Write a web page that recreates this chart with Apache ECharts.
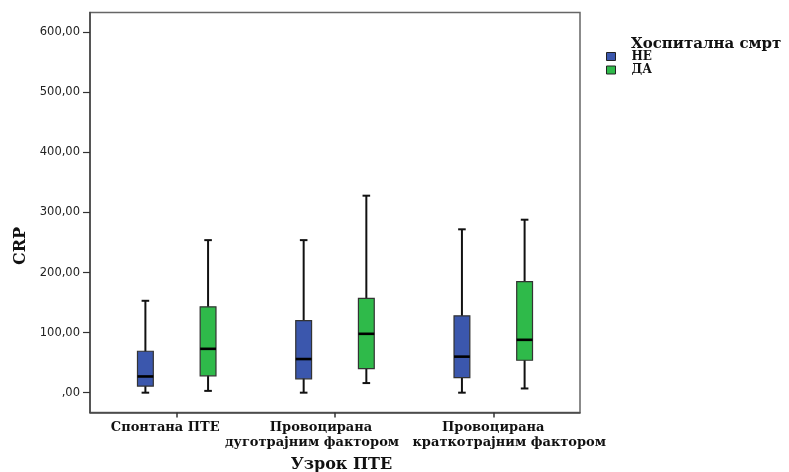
<!DOCTYPE html>
<html><head><meta charset="utf-8">
<script src="https://cdn.jsdelivr.net/npm/echarts@6/dist/echarts.min.js"></script>
<style>html,body{margin:0;padding:0;background:#fff}#c{width:789px;height:472px}</style>
</head><body><div id="c"></div>
<script>
// CRP by cause of PTE, split by in-hospital death
const categories = [['Спонтана ПТЕ'], ['Провоцирана', 'дуготрајним фактором'], ['Провоцирана', 'краткотрајним фактором']];
const groupNames = ['НЕ', 'ДА'];
// [lower whisker, Q1, median, Q3, upper whisker] for each category
const crpNe = [[0, 11, 27, 69, 153], [0, 23, 56, 120, 254], [0, 25, 60, 128, 272]];
const crpDa = [[3, 28, 73, 143, 254], [16, 40, 98, 157, 328], [7, 54, 88, 185, 288]];
const yTicks = [0, 100, 200, 300, 400, 500, 600];
const categoryTicks = [0, 1, 2];
const groupColors = ['#3b57ad', '#2fba4a'];

const serif = "'DejaVu Serif', 'Liberation Serif', serif";
const sans = "'DejaVu Sans', 'Liberation Sans', sans-serif";
const X_MIN = -0.548, X_MAX = 2.548, Y_MIN = -33, Y_MAX = 633;

function toRows(stats) {
  return stats.map((s, i) => [i].concat(s));
}

// per-line rich styles for the category labels (line 1 = l0, line 2 = l1)
const labelRich = {
  c0l0: { padding: [0, 23, 0, 0] },
  c1l0: { padding: [0, 28, 0, 0] },
  c1l1: { padding: [0, 46, 0, 0] },
  c2l0: { padding: [0, 0, 0, 0] },
  c2l1: { padding: [0, 0, 0, 32] }
};
Object.keys(labelRich).forEach(k => Object.assign(labelRich[k], {
  fontFamily: serif, fontWeight: 'bold', fontSize: 13, lineHeight: 14.5, color: '#111'
}));

function categoryLabel(v) {
  const i = Math.round(v);
  return categories[i].map((line, j) => '{c' + i + 'l' + j + '|' + line + '}').join('\n');
}

function boxRenderer(shift) {
  return function (params, api) {
    const x = api.value(0) + shift;
    const lo = api.value(1), q1 = api.value(2), med = api.value(3), q3 = api.value(4), hi = api.value(5);
    const half = 0.05, cap = 0.024;
    const topL = api.coord([x - half, q3]);
    const botR = api.coord([x + half, q1]);
    const mid = api.coord([x, med]);
    const hiP = api.coord([x, hi]);
    const loP = api.coord([x, lo]);
    const capL = api.coord([x - cap, hi])[0];
    const capR = api.coord([x + cap, hi])[0];
    const dark = '#111';
    return {
      type: 'group',
      children: [
        { type: 'line', shape: { x1: hiP[0], y1: hiP[1], x2: loP[0], y2: loP[1] }, style: { stroke: dark, lineWidth: 2 } },
        { type: 'line', shape: { x1: capL, y1: hiP[1], x2: capR, y2: hiP[1] }, style: { stroke: dark, lineWidth: 2 } },
        { type: 'line', shape: { x1: capL, y1: loP[1], x2: capR, y2: loP[1] }, style: { stroke: dark, lineWidth: 2 } },
        { type: 'rect', shape: { x: topL[0], y: topL[1], width: botR[0] - topL[0], height: botR[1] - topL[1] },
          style: { fill: api.visual('color'), stroke: '#333', lineWidth: 1.2 } },
        { type: 'line', shape: { x1: topL[0], y1: mid[1], x2: botR[0], y2: mid[1] }, style: { stroke: '#000', lineWidth: 2.6 } }
      ]
    };
  };
}

const gridRect = { left: 90, right: 209, top: 12.5, bottom: 59.5, containLabel: false, outerBoundsMode: 'none' };
const labelBase = {
  formatter: categoryLabel,
  rich: labelRich,
  showMinLabel: true, showMaxLabel: true, hideOverlap: false,
  margin: 8,
  fontFamily: serif, fontWeight: 'bold', fontSize: 13, lineHeight: 14.5, color: '#111'
};

const chart = echarts.init(document.getElementById('c'), null, { renderer: 'canvas' });
chart.setOption({
  animation: false,
  backgroundColor: '#fff',
  color: groupColors,
  title: {
    text: 'Хоспитална смрт',
    left: 626, top: 31.5,
    textStyle: { fontFamily: serif, fontWeight: 'bold', fontSize: 15, color: '#111' }
  },
  legend: {
    data: groupNames,
    orient: 'vertical',
    left: 606, top: 50.5, padding: 0,
    itemWidth: 9, itemHeight: 8, itemGap: 1.5,
    icon: 'rect',
    itemStyle: { borderColor: '#222', borderWidth: 1 },
    textStyle: { fontFamily: serif, fontWeight: 'bold', fontSize: 12, lineHeight: 9, color: '#111', padding: [0, 0, 0, 11] }
  },
  grid: [
    Object.assign({ show: true, borderColor: '#666', borderWidth: 1.5, backgroundColor: 'transparent' }, gridRect),
    Object.assign({ show: false }, gridRect)
  ],
  xAxis: [{
    gridIndex: 0,
    type: 'value',
    min: X_MIN, max: X_MAX,
    name: 'Узрок ПТЕ',
    nameLocation: 'middle',
    nameGap: 44,
    nameTextStyle: { fontFamily: serif, fontWeight: 'bold', fontSize: 16, color: '#111', padding: [0, 0, 0, 13] },
    splitLine: { show: false },
    axisLine: { show: true, onZero: false, lineStyle: { color: '#444', width: 1.5 } },
    axisTick: { show: true, length: 5, customValues: categoryTicks, lineStyle: { color: '#333', width: 1.5 } },
    axisLabel: Object.assign({ customValues: [0, 2] }, labelBase)
  }, {
    gridIndex: 1,
    type: 'value',
    min: X_MIN, max: X_MAX,
    splitLine: { show: false },
    axisLine: { show: false, onZero: false },
    axisTick: { show: false },
    axisLabel: Object.assign({ customValues: [1] }, labelBase)
  }],
  yAxis: [{
    gridIndex: 0,
    type: 'value',
    min: Y_MIN, max: Y_MAX,
    splitLine: { show: false },
    axisLine: { show: true, onZero: false, lineStyle: { color: '#444', width: 1.5 } },
    axisTick: { show: true, length: 7, customValues: yTicks, lineStyle: { color: '#333', width: 1.2 } },
    axisLabel: {
      customValues: yTicks,
      formatter: v => (v === 0 ? ',00' : v + ',00'),
      margin: 10,
      fontFamily: sans, fontSize: 11.5, color: '#222'
    }
  }, {
    gridIndex: 1,
    type: 'value',
    min: Y_MIN, max: Y_MAX,
    show: false
  }],
  graphic: [{
    type: 'text',
    x: 13, y: 246,
    rotation: Math.PI / 2,
    style: { text: 'CRP', fontFamily: serif, fontWeight: 'bold', fontSize: 16, fill: '#111', align: 'center', verticalAlign: 'top' }
  }],
  series: [
    { name: groupNames[0], type: 'custom', renderItem: boxRenderer(-0.198), data: toRows(crpNe),
      encode: { x: 0, y: [1, 2, 3, 4, 5] }, itemStyle: { color: groupColors[0] } },
    { name: groupNames[1], type: 'custom', renderItem: boxRenderer(0.198), data: toRows(crpDa),
      encode: { x: 0, y: [1, 2, 3, 4, 5] }, itemStyle: { color: groupColors[1] } }
  ]
});
</script>
</body></html>
